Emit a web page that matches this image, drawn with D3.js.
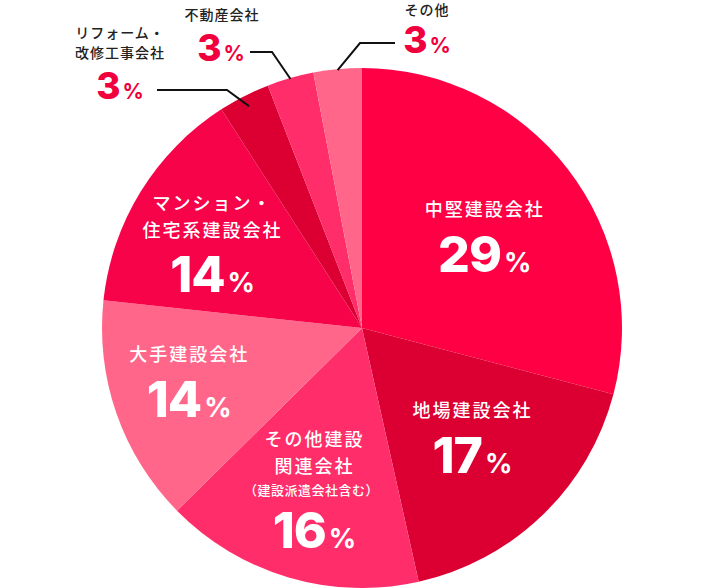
<!DOCTYPE html>
<html><head><meta charset="utf-8">
<script src="https://cdn.jsdelivr.net/npm/d3@7"></script>
<style>
html,body{margin:0;padding:0;background:#fff;}
svg{display:block;}
</style></head>
<body>
<svg id="chart" width="724" height="588"></svg>
<script>
// ---- data ----
const categories = ["中堅建設会社","地場建設会社","その他建設関連会社","大手建設会社","マンション・住宅系建設会社","リフォーム・改修工事会社","不動産会社","その他"];
const values = [29.1, 17.4, 16.1, 14.1, 14.2, 3.2, 2.9, 3.0];
const percentLabels = ["29","17","16","14","14","3","3","3"];
const labelLines = [
  ["中堅建設会社"],
  ["地場建設会社"],
  ["その他建設","関連会社","（建設派遣会社含む）"],
  ["大手建設会社"],
  ["マンション・","住宅系建設会社"],
  ["リフォーム・","改修工事会社"],
  ["不動産会社"],
  ["その他"]
];
const colors = ["#ff0045","#dc0032","#ff2d6a","#ff6689","#f70349","#dc0032","#ff2d6a","#ff6689"];

// ---- layout ----
const W = 724, H = 588, cx = 362, cy = 328, R = 260;
const svg = d3.select("#chart");
const g = svg.append("g").attr("transform", `translate(${cx},${cy})`);

const pie = d3.pie().sort(null).value(d => d).startAngle(0).endAngle(2*Math.PI);
const arcs = pie(values);
const arc = d3.arc().innerRadius(0).outerRadius(R);

g.selectAll("path.slice").data(arcs).enter().append("path")
  .attr("class","slice")
  .attr("d", arc)
  .attr("fill", (d,i) => colors[i]);

const JP = "'Noto Sans CJK JP','Noto Sans',sans-serif";
const NUM = "Inter,'Noto Sans CJK JP',sans-serif";
const labelArc = d3.arc().innerRadius(165).outerRadius(165);

// inner labels: anchor = number baseline centre, centroid + nudge
const nudge = [[-8,45],[-4,26],[-1,62],[-17,35],[-9,51]];
const lineOffsets = [[-56],[-56],[-102,-75,-53],[-56],[-82,-55]];

arcs.slice(0,5).forEach((d,i) => {
  const c = labelArc.centroid(d);
  const x = c[0] + nudge[i][0], y = c[1] + nudge[i][1];
  const lg = g.append("g").attr("transform", `translate(${x},${y})`);
  labelLines[i].forEach((t,j) => {
    const small = t.startsWith("（");
    lg.append("text")
      .attr("x", small ? -3 : 0).attr("y", lineOffsets[i][j])
      .attr("text-anchor","middle")
      .attr("font-family", JP)
      .attr("font-size", small ? 13 : 18)
      .attr("font-weight", 500)
      .attr("letter-spacing", small ? 0.5 : 2)
      .attr("fill","#fff")
      .text(t);
  });
  const num = lg.append("text").attr("x",0).attr("y",0)
    .attr("text-anchor","middle")
    .attr("font-family", NUM)
    .attr("fill","#fff");
  num.append("tspan").attr("font-size",50).attr("font-weight",800).attr("letter-spacing",-1).text(percentLabels[i]);
  num.append("tspan").attr("font-size",27).attr("font-weight",700).attr("dx",3).text("%");
});

// outer labels with leader lines
const outer = [
  {i:5, rIn:249, elbow:[227,90], end:[157,90], tx:120, lines:[38,58], num:[120,99]},
  {i:6, rIn:259, elbow:[272,52], end:[250,52], tx:222, lines:[20], num:[221,61]},
  {i:7, rIn:259, elbow:[360,43], end:[395,43], tx:427, lines:[15], num:[427,53]}
];
outer.forEach(o => {
  const d = arcs[o.i];
  const a = (d.startAngle + d.endAngle)/2;
  const p = [cx + o.rIn*Math.sin(a), cy - o.rIn*Math.cos(a)];
  svg.append("path")
    .attr("d", d3.line()([p, o.elbow, o.end]))
    .attr("fill","none").attr("stroke","#111").attr("stroke-width",2);
  labelLines[o.i].forEach((t,j) => {
    svg.append("text")
      .attr("x", o.tx).attr("y", o.lines[j])
      .attr("text-anchor","middle")
      .attr("font-family", JP)
      .attr("font-size",14).attr("font-weight",500)
      .attr("letter-spacing",1)
      .attr("fill","#222")
      .text(t);
  });
  const num = svg.append("text").attr("x",o.num[0]).attr("y",o.num[1])
    .attr("text-anchor","middle").attr("font-family",NUM).attr("fill","#f0003c");
  num.append("tspan").attr("font-size",37).attr("font-weight",800).text(percentLabels[o.i]);
  num.append("tspan").attr("font-size",21).attr("font-weight",700).attr("dx",2).text("%");
});
</script>
</body></html>
